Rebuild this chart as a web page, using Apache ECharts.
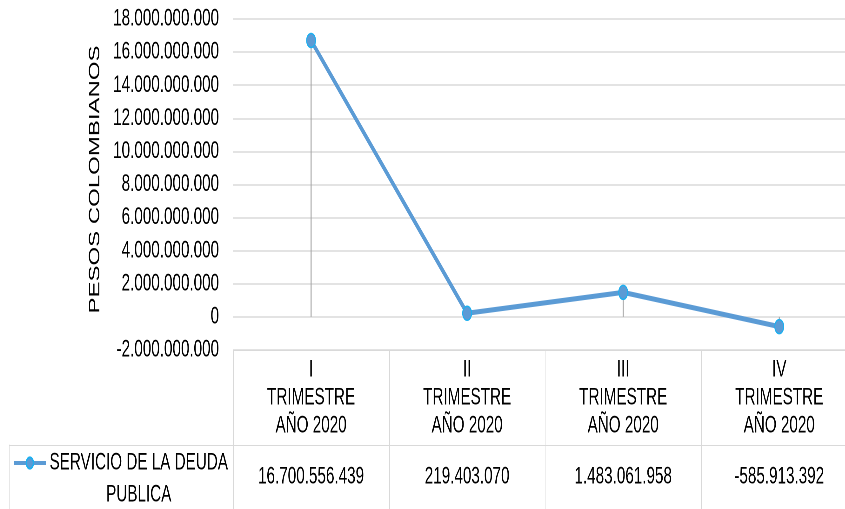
<!DOCTYPE html>
<html>
<head>
<meta charset="utf-8">
<script src="https://cdn.jsdelivr.net/npm/echarts@6/dist/echarts.min.js"></script>
<style>
  html, body { margin: 0; padding: 0; overflow: hidden; background: #fff; }
  /* el gráfico original está comprimido en horizontal */
  #main { width: 1350px; height: 509px; transform: scaleX(0.635); transform-origin: 0 0; }
</style>
</head>
<body>
<div id="main"></div>
<script>
const categories = ['I', 'II', 'III', 'IV']
const seriesName = 'SERVICIO DE LA DEUDA PUBLICA'
const values = [16700556439, 219403070, 1483061958, -585913392]
const yMin = -2000000000
const yMax = 18000000000
const yStep = 2000000000

const font = "'Liberation Sans', Arial, sans-serif"
const textColor = '#000000'
const gridColor = '#d9d9d9'

// 16.700.556.439
const fmt = (v) => {
  const s = Math.abs(v).toString().replace(/\B(?=(\d{3})+(?!\d))/g, '.')
  return (v < 0 ? '-' : '') + s
}

const catLabels = categories.map((c) => c + '\nTRIMESTRE\nAÑO 2020')
const valueLabels = values.map(fmt)

const chart = echarts.init(document.getElementById('main'), null, { devicePixelRatio: 2 })

chart.setOption({
  animation: false,
  textStyle: { fontFamily: font },
  legend: {
    data: [seriesName],
    left: 20,
    top: 415,
    padding: 0,
    itemWidth: 50,
    itemHeight: 14,
    lineStyle: { width: 4 },
    formatter: () => '\n{a|SERVICIO DE LA DEUDA}\n{a|PUBLICA}',
    textStyle: {
      lineHeight: 32,
      fontSize: 24,
      color: textColor,
      rich: {
        a: { width: 283, align: 'center', fontSize: 24, lineHeight: 32, color: textColor, fontFamily: font }
      }
    }
  },
  grid: [
    { left: 367, right: 0, top: 19, bottom: 159 },
    { left: 14.6, right: 0, top: 445, bottom: 0 }
  ],
  xAxis: [
    {
      type: 'category',
      data: catLabels,
      position: 'bottom',
      axisLine: { onZero: false, lineStyle: { color: gridColor } },
      axisTick: { show: true, interval: 0, length: 159, lineStyle: { color: gridColor } },
      axisLabel: { interval: 0, margin: 6, fontSize: 24, lineHeight: 28, color: textColor }
    },
    {
      type: 'category',
      data: valueLabels,
      position: 'bottom',
      offset: 105,
      axisLine: { show: false, onZero: false },
      axisTick: { show: false },
      axisLabel: { interval: 0, margin: 8, fontSize: 24, lineHeight: 28, color: textColor }
    },
    {
      type: 'value',
      gridIndex: 1,
      position: 'top',
      min: 0,
      max: 1,
      axisLine: { show: true, onZero: false, lineStyle: { color: gridColor } },
      axisTick: { show: false },
      axisLabel: { show: false },
      splitLine: { show: false }
    }
  ],
  yAxis: [
    {
      type: 'value',
      min: yMin,
      max: yMax,
      interval: yStep,
      name: 'PESOS COLOMBIANOS',
      nameLocation: 'middle',
      nameGap: 205,
      nameTextStyle: { fontSize: 24, color: textColor, padding: [0, 0, 0, 10] },
      axisLine: { show: false },
      axisTick: { show: false },
      axisLabel: { margin: 22, fontSize: 24, color: textColor, formatter: fmt },
      splitLine: { lineStyle: { color: gridColor, width: 1.5 } }
    },
    {
      type: 'value',
      gridIndex: 1,
      min: 0,
      max: 1,
      axisLine: { show: true, lineStyle: { color: gridColor } },
      axisTick: { show: false },
      axisLabel: { show: false },
      splitLine: { show: false }
    }
  ],
  series: [
    {
      // líneas de caída hasta el eje
      name: 'caida',
      type: 'bar',
      data: values,
      barWidth: 1.6,
      silent: true,
      itemStyle: { color: '#a6a6a6' },
      z: 1
    },
    {
      name: seriesName,
      type: 'line',
      data: values,
      symbol: 'circle',
      symbolSize: 14,
      lineStyle: { color: '#5b9bd5', width: 5 },
      itemStyle: { color: '#5b9bd5', borderColor: '#1eb0f0', borderWidth: 1.5 },
      z: 3
    }
  ]
})
</script>
</body>
</html>
